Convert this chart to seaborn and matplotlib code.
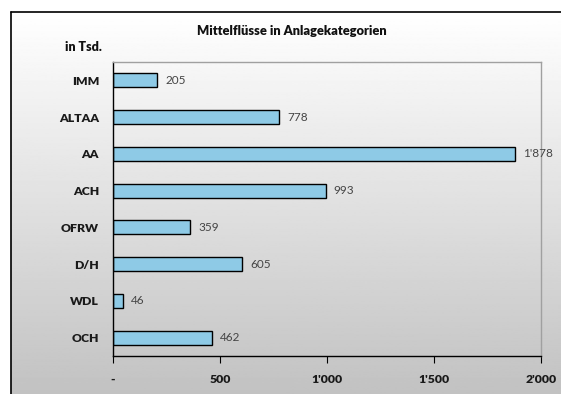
import numpy as np
import pandas as pd
import matplotlib
matplotlib.use("Agg")
import matplotlib.pyplot as plt
from matplotlib.lines import Line2D
import seaborn as sns

categories = ["IMM", "ALTAA", "AA", "ACH", "OFRW", "D/H", "WDL", "OCH"]
values = [205, 778, 1878, 993, 359, 605, 46, 462]
x_ticks = [0, 500, 1000, 1500, 2000]
x_tick_labels = ["-", "500", "1'000", "1'500", "2'000"]
title = "Mittelflüsse in Anlagekategorien"
unit_label = "in Tsd."

sns.set_theme(style="white")
plt.rcParams["font.family"] = ["Lato", "DejaVu Sans"]

W, H = 561, 394
fig = plt.figure(figsize=(W / 100, H / 100), dpi=100)
fig.patch.set_facecolor("white")

# chart frame with vertical white-to-grey gradient
fx0, fy1 = 11 / W, 1 - 12 / H
bg = fig.add_axes([fx0, 0, 1 - fx0, fy1], zorder=0)
grad = np.linspace(0.76, 1.0, 256).reshape(-1, 1)
bg.imshow(grad, cmap="gray", vmin=0, vmax=1, aspect="auto",
          extent=[0, 1, 0, 1], origin="lower")
bg.set_axis_off()
fig.add_artist(Line2D([fx0, 1], [fy1, fy1], transform=fig.transFigure,
                      color="black", lw=1.2, zorder=5))
fig.add_artist(Line2D([fx0, fx0], [0, fy1], transform=fig.transFigure,
                      color="black", lw=1.2, zorder=5))

df = pd.DataFrame({"Kategorie": categories, "Wert": values})

ax = fig.add_axes([113 / W, 1 - 356 / H, (541 - 113) / W, (356 - 62) / H], zorder=2)
ax.patch.set_alpha(0)
sns.barplot(data=df, x="Wert", y="Kategorie", orient="h", ax=ax,
            color="#8ECAE6", saturation=1, width=0.38,
            edgecolor="black", linewidth=1.0)

ax.set_xlim(0, 2000)
ax.set_ylim(len(categories) - 0.5, -0.5)
ax.set_xticks(x_ticks)
ax.set_xticklabels(x_tick_labels, fontsize=8.8, fontweight="heavy", color="#1a1a1a")
ax.set_yticks(range(len(categories)))
ax.set_yticklabels(categories, fontsize=8.8, fontweight="heavy", color="#1a1a1a")
ax.set_xlabel("")
ax.set_ylabel("")

# category boundary ticks on the y axis
ax.set_yticks(np.arange(-0.5, len(categories), 1), minor=True)
ax.tick_params(axis="y", which="major", length=0, pad=10)
ax.tick_params(axis="y", which="minor", length=5, width=0.8, color="black", direction="out")
ax.tick_params(axis="x", which="major", length=5, width=0.8, color="black",
               direction="out", pad=8, bottom=True)

for side in ["left", "bottom"]:
    ax.spines[side].set_color("black")
    ax.spines[side].set_linewidth(1.0)
for side in ["top", "right"]:
    ax.spines[side].set_visible(True)
    ax.spines[side].set_color("#a0a0a0")
    ax.spines[side].set_linewidth(1.0)

def fmt(v):
    return f"{v:,}".replace(",", "'")

ax.bar_label(ax.containers[0], labels=[fmt(v) for v in values], padding=6,
             fontsize=8.5, color="#444444")

fig.text(292 / W, 1 - 31 / H, title, ha="center", va="center",
         fontsize=9.3, fontweight="heavy", color="#111111")
fig.text(83 / W, 1 - 47 / H, unit_label, ha="center", va="center",
         fontsize=9, fontweight="heavy", color="#111111")

fig.savefig("out.png", dpi=100)
